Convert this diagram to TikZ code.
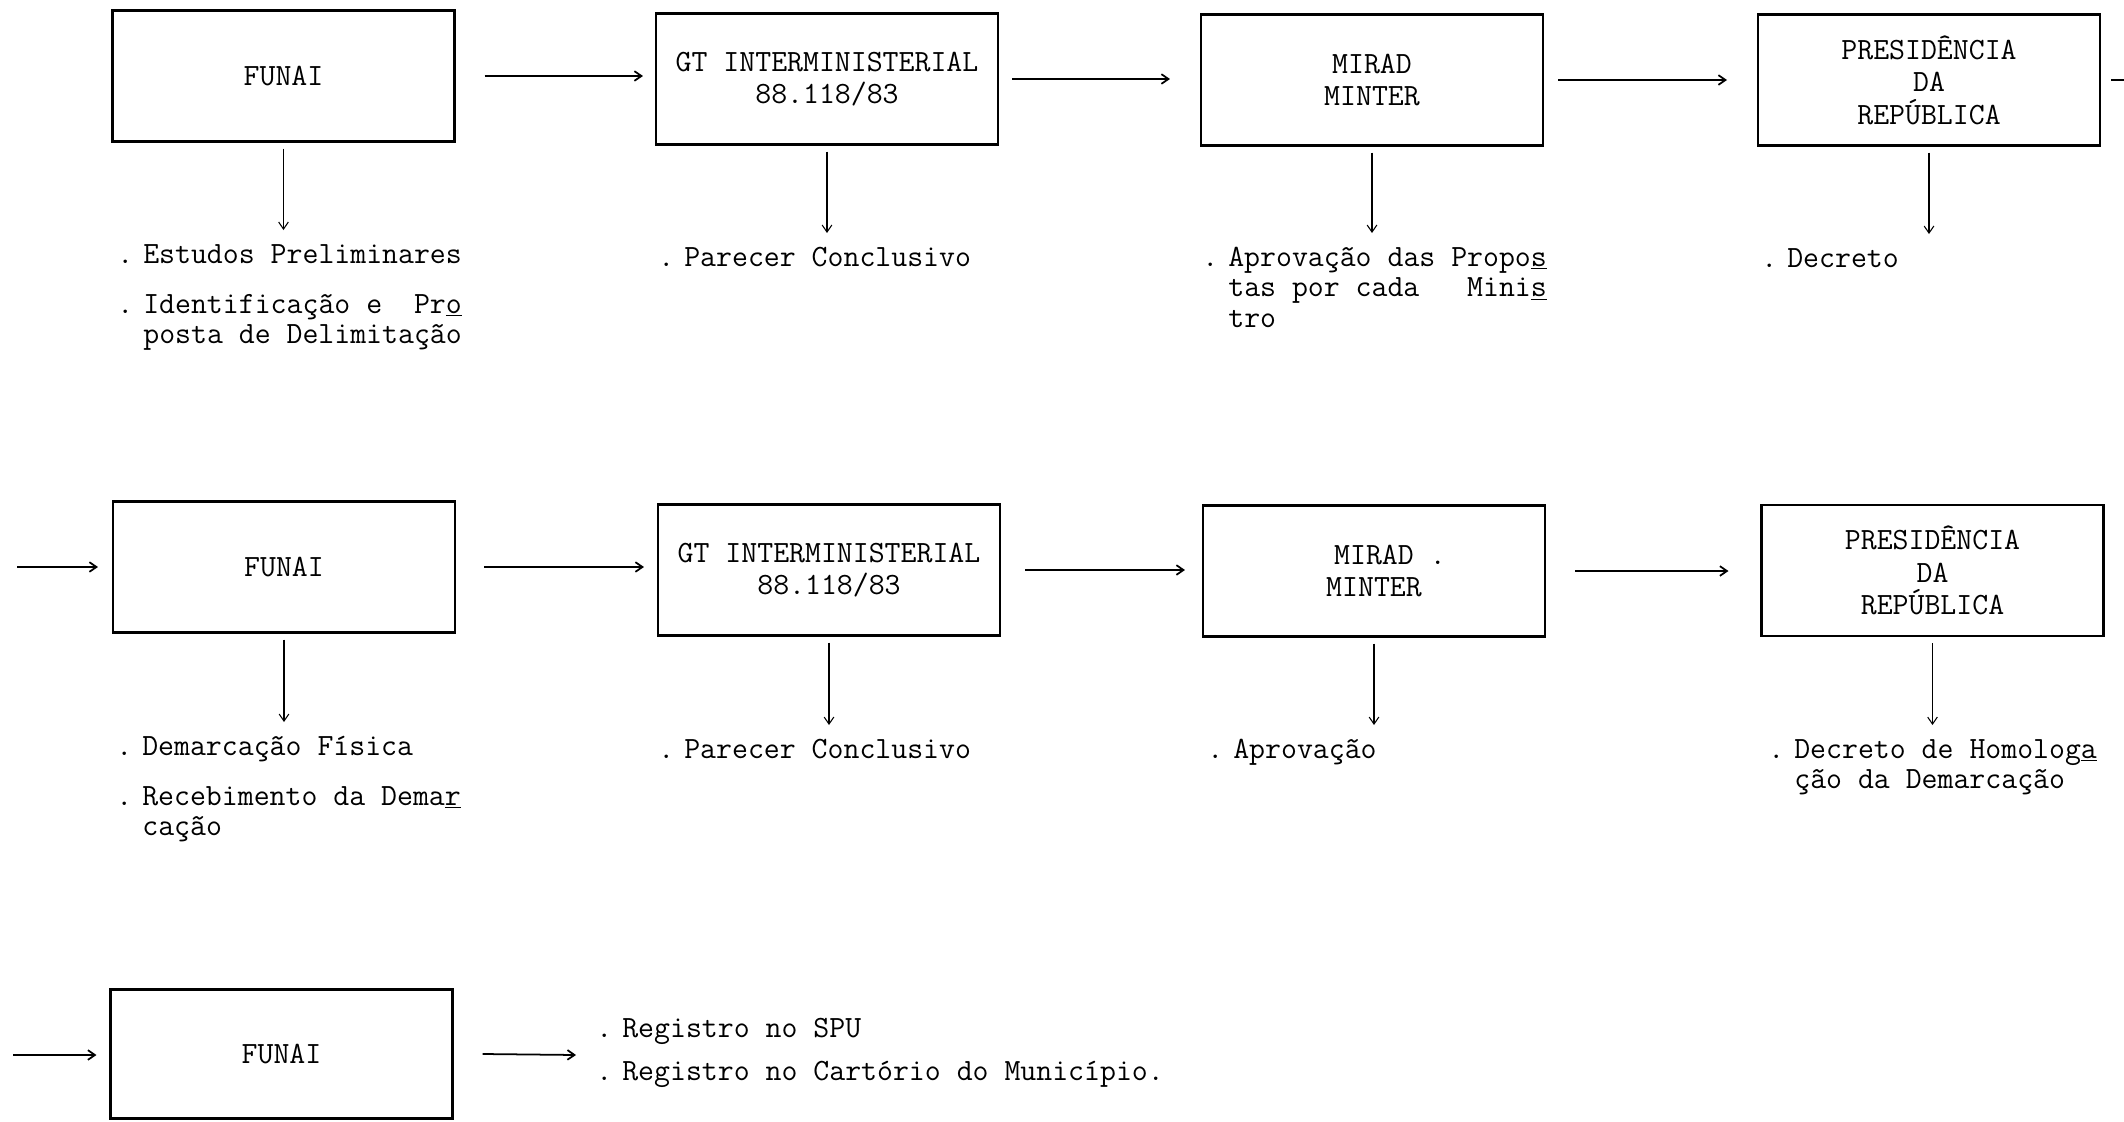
\documentclass[tikz,border=0pt]{standalone}
\usetikzlibrary{arrows.meta}
\newcommand\itemfont{\ttfamily\fontsize{17.6}{17.6}\selectfont}
\newcommand\boxfont{\ttfamily\fontsize{17.6}{18.5}\selectfont}
\newcommand\itemlines[1]{\begin{tabular}[t]{@{}l@{}}#1\end{tabular}}
\newcommand\bul{\makebox[0.84em][l]{.}}
\newcommand\ind{\hspace*{0.84em}}
\begin{document}
\begin{tikzpicture}[x=0.02cm,y=-0.02cm,
  box/.style={draw, line width=1.2pt, minimum width=6.84cm, minimum height=2.62cm, align=center, font=\boxfont, inner sep=0pt},
  item/.style={anchor=base west, inner sep=0pt, font=\itemfont},
  harrow/.style={line width=1pt, -{Straight Barb[length=4pt,width=5.5pt]}},
  darrow/.style={line width=0.6pt, -{Straight Barb[length=4pt,width=5.5pt]}, shorten <=0.12cm, shorten >=0.22cm},
  plainline/.style={line width=1pt}
]
\fill[white] (0,0) rectangle (2124,1122);
\useasboundingbox (0,0) rectangle (2124,1122);

% ---- row 1 ----
\node[box] (b11) at (283.5,76) {FUNAI};
\node[box] (b12) at (827,79) {GT INTERMINISTERIAL\\88.118/83};
\node[box] (b13) at (1372,80) {MIRAD\\MINTER};
\node[box] (b14) at (1929,80) {PRESIDÊNCIA\\DA\\REPÚBLICA};
\coordinate (c1out) at (2150,80);

\node[item] (t11a) at (117,263) {\itemlines{\bul Estudos Preliminares}};
\node[item] (t11b) at (117,313) {\itemlines{\bul Identificação e\ \ Pr\underline{o}\\\ind posta de Delimitação}};
\node[item] (t12) at (658,266) {\itemlines{\bul Parecer Conclusivo}};
\node[item] (t13) at (1202,266) {\itemlines{\bul Aprovação das Propo\underline{s}\\\ind tas por cada\ \ \ Mini\underline{s}\\\ind tro}};
\node[item] (t14) at (1761,267) {\itemlines{\bul Decreto}};

\draw[harrow] ([xshift=0.58cm]b11.east) -- ([xshift=-0.24cm]b11.east -| b12.west);
\draw[harrow] ([xshift=0.26cm]b12.east) -- ([xshift=-0.6cm]b12.east -| b13.west);
\draw[harrow] ([xshift=0.28cm]b13.east) -- ([xshift=-0.6cm]b13.east -| b14.west);
\draw[plainline] ([xshift=0.2cm]b14.east) -- (c1out);

\draw[darrow] (b11.south) -- (b11.south |- t11a.north);
\draw[darrow] (b12.south) -- (b12.south |- t12.north);
\draw[darrow] (b13.south) -- (b13.south |- t13.north);
\draw[darrow] (b14.south) -- (b14.south |- t14.north);

% ---- row 2 ----
\coordinate (c2in) at (17,567);
\node[box] (b21) at (284,567) {FUNAI};
\node[box] (b22) at (829,570) {GT INTERMINISTERIAL\\88.118/83};
\node[box] (b23) at (1374,571) {MIRAD\rlap{ .}\\MINTER};
\node[box] (b24) at (1932.5,570.5) {PRESIDÊNCIA\\DA\\REPÚBLICA};

\node[item] (t21a) at (116,755) {\itemlines{\bul Demarcação Física}};
\node[item] (t21b) at (116,805) {\itemlines{\bul Recebimento da Dema\underline{r}\\\ind cação}};
\node[item] (t22) at (658,758) {\itemlines{\bul Parecer Conclusivo}};
\node[item] (t23) at (1207,758) {\itemlines{\bul Aprovação}};
\node[item] (t24) at (1768,758) {\itemlines{\bul Decreto de Homolog\underline{a}\\\ind ção da Demarcação}};

\draw[harrow] (c2in) -- ([xshift=-0.28cm]c2in -| b21.west);
\draw[harrow] ([xshift=0.56cm]b21.east) -- ([xshift=-0.26cm]b21.east -| b22.west);
\draw[harrow] ([xshift=0.48cm]b22.east) -- ([xshift=-0.34cm]b22.east -| b23.west);
\draw[harrow] ([xshift=0.58cm]b23.east) -- ([xshift=-0.64cm]b23.east -| b24.west);

\draw[darrow] (b21.south) -- (b21.south |- t21a.north);
\draw[darrow] (b22.south) -- (b22.south |- t22.north);
\draw[darrow] (b23.south) -- (b23.south |- t23.north);
\draw[darrow] (b24.south) -- (b24.south |- t24.north);

% ---- row 3 ----
\coordinate (c3in) at (13,1055);
\coordinate (c3out) at (576,1055);
\node[box, minimum height=2.58cm] (b31) at (281.5,1054) {FUNAI};
\node[item] (t31a) at (596,1037) {\itemlines{\bul Registro no SPU}};
\node[item] (t31b) at (596,1080) {\itemlines{\bul Registro no Cartório do Município.}};

\draw[harrow] (c3in) -- ([xshift=-0.26cm]c3in -| b31.west);
\draw[harrow] ([xshift=0.58cm]b31.east) -- (c3out);
\end{tikzpicture}
\end{document}
